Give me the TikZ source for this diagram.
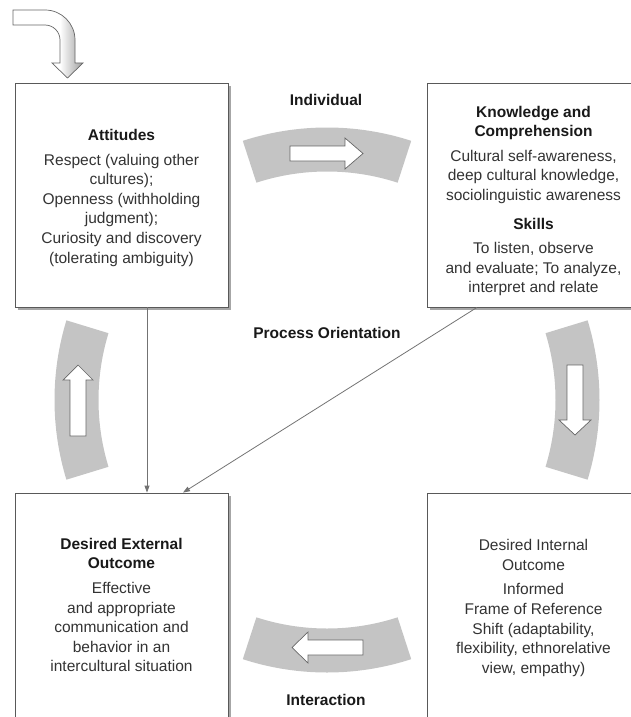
\documentclass[tikz,border=0pt]{standalone}
\usepackage{fontspec}
\setmainfont{Liberation Sans}
\usetikzlibrary{shadows,arrows.meta,calc}
\begin{document}
\begin{tikzpicture}[x=1pt,y=1pt,
  box/.style={draw=black!65,line width=0.8pt,fill=white,minimum width=213pt,minimum height=224pt,
    inner sep=0pt,
    drop shadow={shadow xshift=2.5pt,shadow yshift=-2.5pt,fill=black!35,opacity=1}},
  txt/.style={align=center,inner sep=0pt,text=black!80,font=\fontsize{15.5}{19.6}\selectfont},
  lab/.style={font=\fontsize{15.5}{18}\selectfont\bfseries,text=black!90,inner sep=0pt},
  band/.style={fill=black!23,draw=none},
  blk/.style={fill=white,draw=black!60,line width=0.7pt,line join=miter},
  conn/.style={draw=black!55,line width=0.8pt,-{Triangle[length=7pt,width=5pt]}}]
\useasboundingbox (0,0) rectangle (631,-717);
\clip (0,0) rectangle (631,-717);
\newcommand{\ttl}[1]{{\color{black!90}\bfseries #1}}
% gray annular bands
\coordinate (c) at (327,-400);
\newcommand{\band}[2]{%
  \fill[band] ($(c)+(#1:272.5)$) arc[start angle=#1,end angle=#2,radius=272.5]
    -- ($(c)+(#2:228.5)$) arc[start angle=#2,end angle=#1,radius=228.5] -- cycle;}
\band{72}{108}
\band{-17}{17}
\band{163}{197}
\band{252}{288}
% block arrows in bands
\draw[blk] (290,-146) -- (345,-146) -- (345,-138) -- (363,-153.5) -- (345,-169) -- (345,-161) -- (290,-161) -- cycle;
\draw[blk] (567,-365) -- (583,-365) -- (583,-420) -- (591,-420) -- (575,-435) -- (559,-420) -- (567,-420) -- cycle;
\draw[blk] (70,-436) -- (86,-436) -- (86,-380) -- (93,-380) -- (78,-365) -- (63,-380) -- (70,-380) -- cycle;
\draw[blk] (363,-640) -- (308,-640) -- (308,-632) -- (292,-647.5) -- (308,-663) -- (308,-655) -- (363,-655) -- cycle;
% bent entry arrow
\newcommand{\bentpath}{(13,-10) -- (45,-10) arc[start angle=90,end angle=0,radius=30] -- (75,-63) -- (83,-63) -- (67.5,-78)
  -- (52,-63) -- (60,-63) -- (60,-40) arc[start angle=0,end angle=90,radius=15] -- (13,-25) -- cycle}
\fill[white] \bentpath;
\begin{scope}
  \clip \bentpath;
  \shade[left color=white,right color=black!40] (60,-15) rectangle (84,-80);
\end{scope}
\draw[draw=black!60,line width=0.7pt,line join=miter] \bentpath;
% boxes
\node[box] (att) at (121.5,-195) {};
\node[box] (know) at (533.5,-195) {};
\node[box] (ext) at (121.5,-605) {};
\node[box] (int) at (533.5,-605) {};
% box texts
\node[txt] (attT) at ([yshift=-3pt]att.center) {\ttl{Attitudes}\\[4.5pt]
  Respect (valuing other\\ cultures);\\ Openness (withholding\\ judgment);\\ Curiosity and discovery\\ (tolerating ambiguity)};
\node[txt] (knowT) at ([yshift=-6pt]know.center) {\ttl{Knowledge and}\\ \ttl{Comprehension}\\[4.5pt]
  Cultural self-awareness,\\ deep cultural knowledge,\\ sociolinguistic awareness\\[9.5pt]
  \ttl{Skills}\\[4.5pt] To listen, observe\\ and evaluate; To analyze,\\ interpret and relate};
\node[txt] (extT) at (ext.center) {\ttl{Desired External}\\ \ttl{Outcome}\\[5pt]
  Effective\\ and appropriate\\ communication and\\ behavior in an\\ intercultural situation};
\node[txt] (intT) at ([yshift=-3pt]int.center) {Desired Internal\\ Outcome\\[5pt]
  Informed\\ Frame of Reference\\ Shift (adaptability,\\ flexibility, ethnorelative\\ view, empathy)};
% labels
\node[lab] (ind) at (326,-100) {Individual};
\node[lab] (proc) at (327,-333) {Process Orientation};
\node[lab] (inter) at (326,-700) {Interaction};
% connectors
\draw[conn] ([xshift=25.5pt]att.south) -- ([xshift=25.5pt]ext.north);
\draw[conn] ([xshift=-56.5pt]know.south) -- ([xshift=61.5pt]ext.north);
\end{tikzpicture}
\end{document}
